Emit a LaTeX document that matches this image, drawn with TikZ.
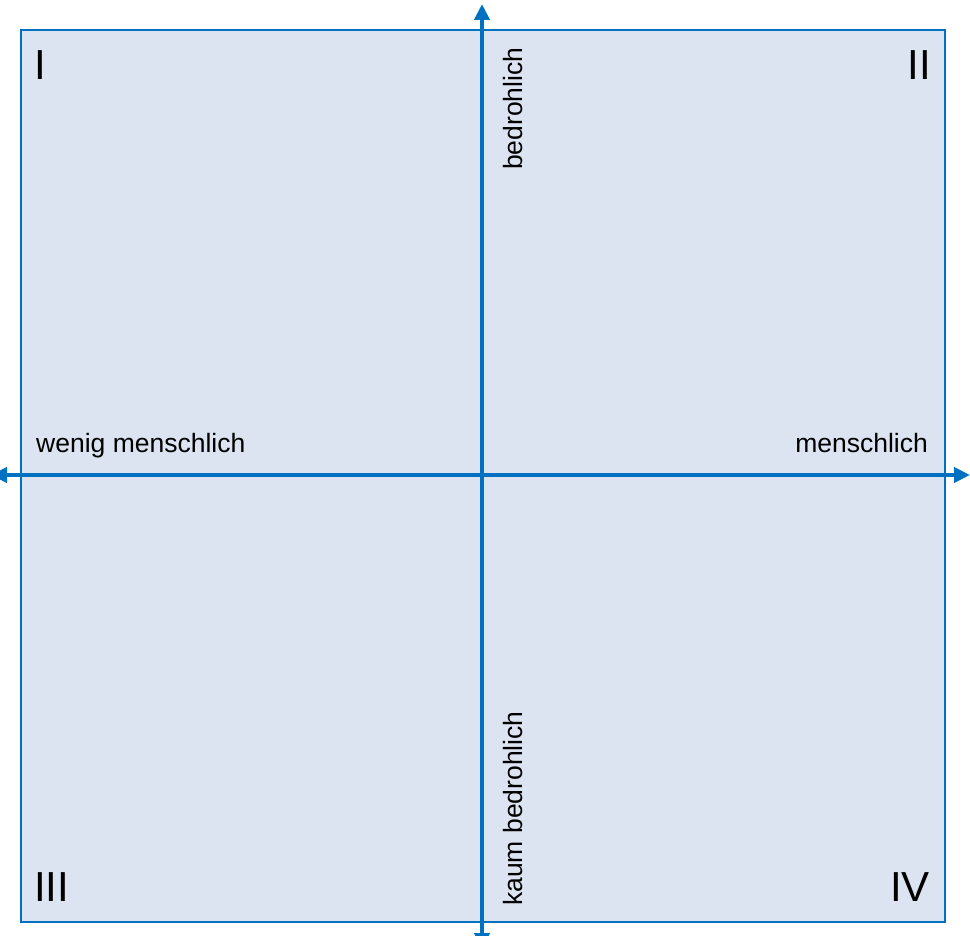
\documentclass[tikz,border=0pt]{standalone}
\usepackage{fontspec}
\setmainfont{Liberation Sans}
\usetikzlibrary{arrows.meta}
\definecolor{axisblue}{HTML}{0070C0}
\definecolor{panelfill}{HTML}{DBE4F0}
\begin{document}
\begin{tikzpicture}[x=1pt,y=-1pt,
  lbl/.style={inner sep=0pt,font=\fontsize{26.5}{30}\selectfont},
  quad/.style={inner sep=0pt,font=\fontsize{42}{46}\selectfont},
  axis/.style={draw=axisblue,line width=4pt,{Triangle[width=15pt,length=16pt]}-{Triangle[width=15pt,length=16pt]}}]
\useasboundingbox (0,0) rectangle (970,936);
\draw[draw=axisblue,fill=panelfill,line width=2pt] (20.5,30.5) rectangle (945,922);
\coordinate (L) at (-9,475);
\coordinate (R) at (970,475);
\coordinate (T) at (482,4);
\coordinate (B) at (482,949);
\draw[axis] (L) -- (R);
\draw[axis] (B) -- (T);
\node[lbl,anchor=base west] (wm) at (36,452) {wenig menschlich};
\node[lbl,anchor=base east] (m) at (928,452) {menschlich};
\node[lbl,anchor=base west,rotate=90] (bd) at (522,170) {bedrohlich};
\node[lbl,anchor=base west,rotate=90] (kb) at (522,906) {kaum bedrohlich};
\node[quad,anchor=base west] (q1) at (34,80) {I};
\node[quad,anchor=base east] (q2) at (931,80) {II};
\node[quad,anchor=base west] (q3) at (34,901) {III};
\node[quad,anchor=base east] (q4) at (930,901) {IV};
\end{tikzpicture}
\end{document}
